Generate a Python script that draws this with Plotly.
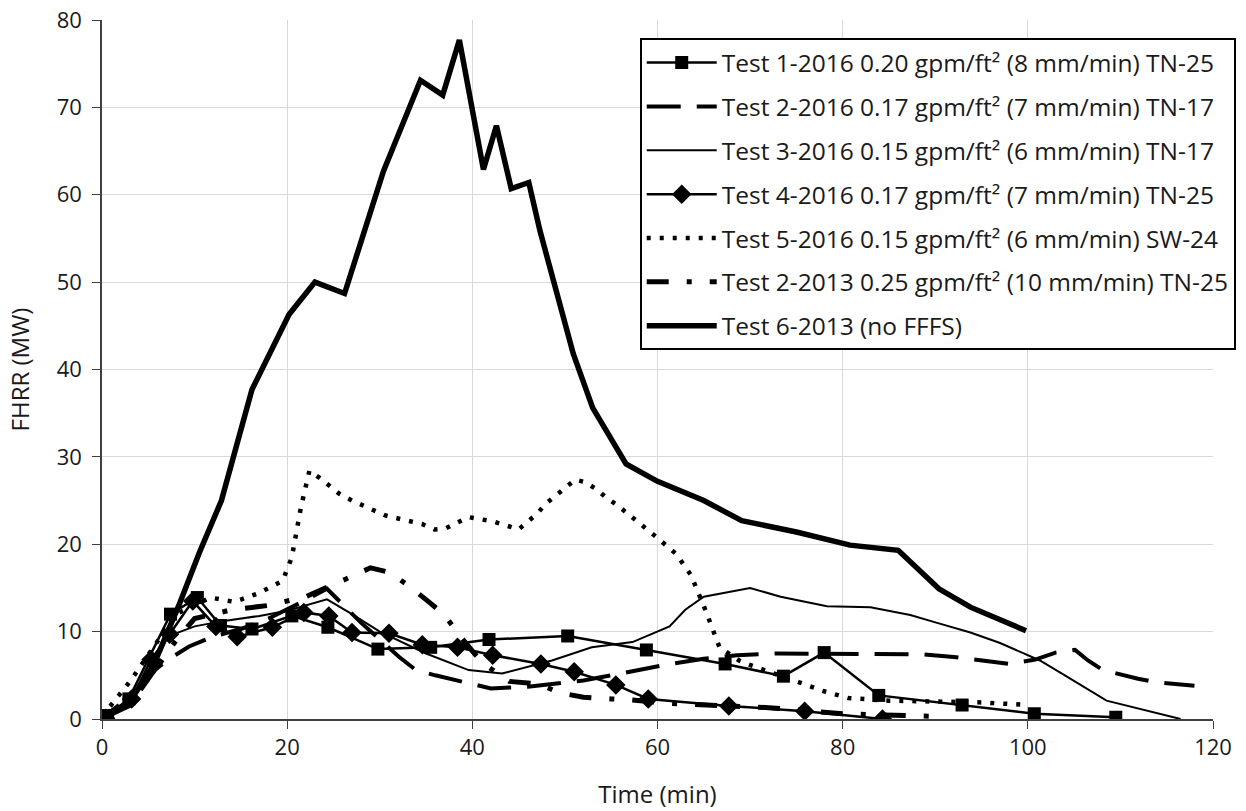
import plotly.graph_objects as go

# ---------------- data ----------------
t1_x = [0.6, 2.9, 7.4, 10.3, 12.8, 16.2, 20.5, 24.4, 29.8, 35.5, 41.8, 50.3, 58.8, 67.3, 73.6, 78.0, 83.9, 92.9, 100.7, 109.5]
t1_y = [0.4, 2.3, 12.0, 13.9, 10.7, 10.3, 11.8, 10.5, 8.0, 8.2, 9.1, 9.5, 7.9, 6.3, 4.9, 7.6, 2.7, 1.6, 0.6, 0.2]

t2_x = [0, 3, 5.8, 7.6, 9.4, 11.9, 15, 18, 21.6, 24.3, 28, 32.1, 33.9, 36, 40, 42, 46, 48.6, 52, 54, 58, 61.4, 65,
        68.6, 73, 77, 80, 85, 88.7, 92, 94.8, 98, 100.8, 103, 105.1, 106.5, 108.1, 111.9, 114, 118]
t2_y = [0, 1.5, 5.7, 7.1, 8.3, 9.4, 10.3, 11.5, 13.4, 14.9, 11, 7.1, 5.6, 5.0, 4.0, 3.5, 3.7, 4.0, 4.4, 4.8, 5.6, 6.3, 6.9,
        7.3, 7.5, 7.5, 7.4, 7.4, 7.4, 7.1, 6.7, 6.3, 6.8, 7.6, 7.9, 6.7, 5.6, 4.6, 4.2, 3.8]

t3_x = [0, 3, 7.2, 10, 13, 17, 20, 22.5, 24.3, 27, 30, 35, 39.6, 43.2, 48.6, 52.9, 57.3, 61.3, 63, 65, 70, 73.3,
        78.3, 83, 87.3, 90.2, 93.8, 97, 100, 101.3, 104, 108.5, 116.5]
t3_y = [0, 2, 9.5, 10.6, 11.2, 11.8, 12.4, 13.2, 13.7, 12, 10, 7.5, 5.6, 5.2, 6.7, 8.2, 8.8, 10.6, 12.5, 14.0, 15.0, 14.0,
        12.9, 12.8, 11.9, 11.0, 9.9, 8.7, 7.3, 6.7, 5.0, 2.1, 0]

t4_x = [0.4, 3.2, 5.3, 7.3, 9.8, 12.3, 14.6, 18.4, 21.8, 24.5, 27, 31, 34.6, 38.4, 42.2, 47.4, 51, 55.5, 59, 67.7, 75.9, 84.3]
t4_y = [0.1, 2.3, 6.8, 9.7, 13.5, 10.6, 9.4, 10.5, 12.2, 11.8, 9.9, 9.8, 8.5, 8.2, 7.3, 6.3, 5.4, 3.9, 2.3, 1.5, 0.9, 0]

t5_x = [0, 3.1, 8, 11.7, 14.3, 16.9, 19.5, 20.5, 21.5, 22.4, 23.5, 25.6, 27, 30.6, 34.6, 35.9, 37.1, 39.6, 42.3, 45,
        47, 47.9, 51.1, 52.2, 53.4, 54.5, 55.5, 57.8, 59.8, 62, 63.6, 65.2, 66.7, 68.8, 70.2, 75.3, 77.9, 80.6, 85, 90, 95, 100]
t5_y = [0.3, 4.4, 12, 13.9, 13.4, 14.4, 15.8, 18.5, 24.3, 28.4, 27.6, 25.8, 25, 23.3, 22.3, 21.7, 21.8, 23.1, 22.6, 21.7,
        23.5, 24.6, 27.4, 27.1, 26.3, 25.3, 24.6, 22.7, 20.9, 18.9, 16.5, 12.4, 8.2, 6.7, 6.1, 4.2, 3.2, 2.4, 2.1, 2.0, 1.9, 1.6]

t13_x = [0, 3, 6, 8, 10, 14, 18, 22, 26.3, 29, 31, 33.2, 35.3, 37, 38.6, 41, 44, 47.2, 49.4, 52, 55, 57, 61, 65, 72, 80, 86, 90]
t13_y = [0, 2.5, 6, 9, 11.5, 12.5, 13, 14, 16, 17.3, 16.8, 15.2, 13.4, 11.9, 9.6, 6.5, 4.3, 4.0, 3.0, 2.5, 2.3, 2.2, 1.8,
         1.6, 1.3, 0.6, 0.5, 0.3]

t6_x = [0, 3, 5.5, 8.3, 10.5, 12.9, 16.2, 20.2, 23, 26.2, 30.4, 34.4, 36.8, 38.6, 41.2, 42.6, 44.2, 46.1, 47.3, 50.9,
        53, 56.6, 60, 65, 69.1, 75, 80.8, 86, 90.4, 93.8, 99.8]
t6_y = [0, 2, 6, 13, 19, 25, 37.7, 46.3, 50, 48.7, 62.7, 73.1, 71.4, 77.7, 62.9, 67.9, 60.7, 61.4, 55.9, 41.8,
        35.6, 29.2, 27.2, 25, 22.7, 21.4, 19.9, 19.3, 14.9, 12.8, 10.1]

names = [
    "Test 1-2016 0.20 gpm/ft² (8 mm/min) TN-25",
    "Test 2-2016 0.17 gpm/ft² (7 mm/min) TN-17",
    "Test 3-2016 0.15 gpm/ft² (6 mm/min) TN-17",
    "Test 4-2016 0.17 gpm/ft² (7 mm/min) TN-25",
    "Test 5-2016 0.15 gpm/ft² (6 mm/min) SW-24",
    "Test 2-2013 0.25 gpm/ft² (10 mm/min) TN-25",
    "Test 6-2013 (no FFFS)",
]

x_ticks = [0, 20, 40, 60, 80, 100, 120]
y_ticks = [0, 10, 20, 30, 40, 50, 60, 70, 80]

# ---------------- figure ----------------
FONT = "Open Sans"
TXT = "#1a1a1a"
fig = go.Figure()

fig.add_trace(go.Scatter(x=t1_x, y=t1_y, name=names[0], mode="lines+markers",
                         line=dict(color="black", width=2.5),
                         marker=dict(symbol="square", size=13, color="black"), legendgroup="a"))
fig.add_trace(go.Scatter(x=t2_x, y=t2_y, name=names[1], mode="lines",
                         line=dict(color="black", width=4, dash="34px,16px"), legendgroup="b"))
fig.add_trace(go.Scatter(x=t3_x, y=t3_y, name=names[2], mode="lines",
                         line=dict(color="black", width=2), legendgroup="c"))
fig.add_trace(go.Scatter(x=t4_x, y=t4_y, name=names[3], mode="lines+markers",
                         line=dict(color="black", width=2.5),
                         marker=dict(symbol="diamond", size=15, color="black"), legendgroup="d"))
fig.add_trace(go.Scatter(x=t5_x, y=t5_y, name=names[4], mode="lines",
                         line=dict(color="black", width=4.5, dash="4px,9px"), legendgroup="e"))
fig.add_trace(go.Scatter(x=t13_x, y=t13_y, name=names[5], mode="lines",
                         line=dict(color="black", width=5, dash="22px,18px,5px,18px"), legendgroup="f"))
fig.add_trace(go.Scatter(x=t6_x, y=t6_y, name=names[6], mode="lines",
                         line=dict(color="black", width=5.5), legendgroup="g"))

fig.update_layout(
    width=1246, height=811,
    margin=dict(l=102, r=33, t=20, b=92, autoexpand=False),
    paper_bgcolor="white", plot_bgcolor="white",
    font=dict(family=FONT, size=22, color=TXT),
    showlegend=True,
    legend=dict(x=0.484, y=0.974, xanchor="left", yanchor="top",
                bgcolor="white", bordercolor="black", borderwidth=2,
                font=dict(family=FONT, size=24.5, color=TXT),
                traceorder="grouped", tracegroupgap=9, itemwidth=70),
    xaxis=dict(range=[0, 120], tickvals=x_ticks, showgrid=True, gridcolor="#d9d9d9", gridwidth=1,
               showline=True, linecolor="#404040", linewidth=1.5, ticks="outside", ticklen=8,
               tickcolor="#404040", zeroline=False, automargin=False,
               title=dict(text="Time (min)", font=dict(size=24, color=TXT), standoff=26),
               tickfont=dict(size=22, color=TXT)),
    yaxis=dict(range=[0, 80], tickvals=y_ticks, showgrid=True, gridcolor="#d9d9d9", gridwidth=1,
               showline=True, linecolor="#404040", linewidth=1.5, ticks="outside", ticklen=8,
               tickcolor="#404040", zeroline=False, ticklabelstandoff=6, automargin=False,
               title=dict(text="FHRR (MW)", font=dict(size=24, color=TXT), standoff=20),
               tickfont=dict(size=22, color=TXT)),
)

fig.write_html("out.html")
